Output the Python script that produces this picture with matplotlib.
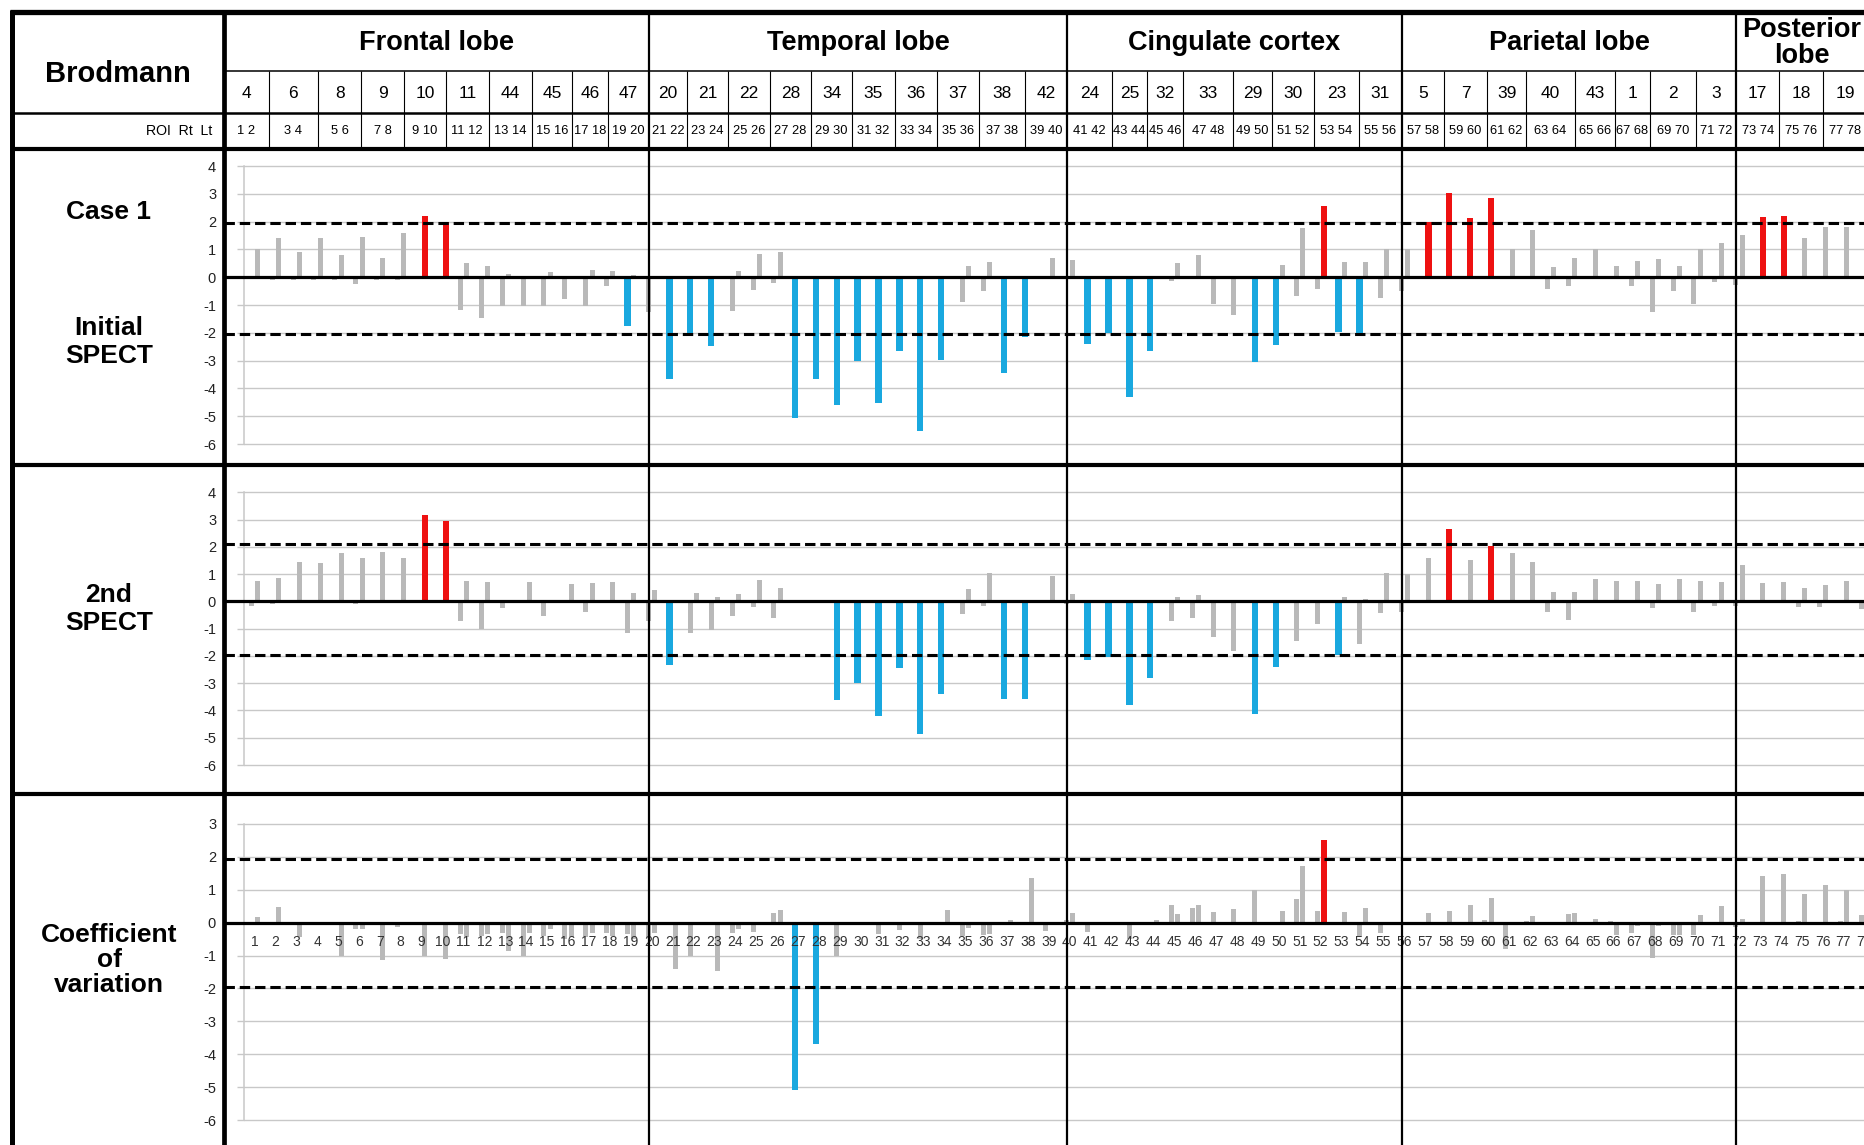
import numpy as np
import matplotlib
matplotlib.use("Agg")
import matplotlib.pyplot as plt

plt.rcParams['font.family'] = ['Liberation Sans', 'DejaVu Sans']

# header of the table
lobes = ["Frontal lobe", "Temporal lobe", "Cingulate cortex", "Parietal lobe", "Posterior\nlobe"]
brodmann = [
    [4, 6, 8, 9, 10, 11, 44, 45, 46, 47],
    [20, 21, 22, 28, 34, 35, 36, 37, 38, 42],
    [24, 25, 32, 33, 29, 30, 23, 31],
    [5, 7, 39, 40, 43, 1, 2, 3],
    [17, 18, 19],
]
rois = np.arange(1, 79)

# Case 1, initial SPECT (z-scores), left = decrease bar, right = increase bar
initial_neg = [0, -0.1, -0.1, -0.1, -0.1, -0.24, -0.1, -0.1, 0, 0,
               -1.16, -1.47, -1.02, -1.02, -1.04, -0.8, -1.04, -0.3, -1.77, -1.24,
               -3.66, -2.04, -2.48, -1.2, -0.45, -0.22, -5.05, -3.66, -4.6, -3.0,
               -4.52, -2.65, -5.52, -2.96, -0.9, -0.48, -3.44, -2.16, 0, 0,
               -2.4, -2.01, -4.32, -2.65, -0.15, 0, -0.96, -1.34, -3.06, -2.43,
               -0.66, -0.42, -1.98, -2.13, -0.76, -0.48, 0, 0, 0, 0,
               0, 0, -0.42, -0.32, 0, 0, -0.3, -1.26, -0.48, -0.96,
               -0.16, -0.28, 0, 0, 0, 0, 0, 0]
initial_pos = [1.02, 1.4, 0.92, 1.4, 0.8, 1.44, 0.7, 1.6, 2.2, 1.98,
               0.52, 0.4, 0.1, 0.05, 0.18, 0, 0.26, 0.22, 0.08, 0,
               0, 0, 0, 0.24, 0.84, 0.92, 0, 0, 0, 0,
               0, 0, 0, 0, 0.4, 0.56, 0, 0, 0.68, 0.62,
               0, 0, 0, 0, 0.52, 0.8, 0, 0, 0, 0.44,
               1.76, 2.58, 0.56, 0.56, 1.02, 1.02, 2.0, 3.03, 2.12, 2.84,
               1.02, 1.71, 0.36, 0.68, 1.02, 0.4, 0.6, 0.66, 0.42, 1.02,
               1.22, 1.52, 2.16, 2.22, 1.4, 1.8, 1.82, 1.75]
initial_up = [9, 10, 52, 57, 58, 59, 60, 73, 74]
initial_down = [19, 21, 22, 23, 27, 28, 29, 30, 31, 32, 33, 34, 37, 38,
                41, 42, 43, 44, 49, 50, 53, 54]

# 2nd SPECT
second_neg = [-0.16, -0.1, 0, 0, 0, -0.1, 0, 0, 0, 0,
              -0.71, -1.01, -0.24, -0.07, -0.53, 0, -0.38, 0, -1.17, -0.71,
              -2.32, -1.17, -1.05, -0.53, -0.22, -0.59, 0, 0, -3.62, -2.98,
              -4.22, -2.44, -4.87, -3.41, -0.46, -0.16, -3.58, -3.58, 0, -0.1,
              -2.14, -2.03, -3.79, -2.8, -0.73, -0.61, -1.32, -1.81, -4.13, -2.42,
              -1.44, -0.81, -1.97, -1.56, -0.44, -0.4, 0, 0, 0, 0,
              0, 0, -0.4, -0.67, 0, 0, 0, -0.24, 0, -0.4,
              -0.16, -0.16, 0, 0, -0.22, -0.22, 0, -0.26]
second_pos = [0.76, 0.86, 1.43, 1.4, 1.77, 1.61, 1.82, 1.61, 3.18, 2.96,
              0.76, 0.7, 0, 0.72, 0, 0.64, 0.67, 0.7, 0.31, 0.43,
              0, 0.31, 0.15, 0.29, 0.8, 0.48, 0, 0, 0, 0,
              0, 0, 0, 0, 0.45, 1.04, 0, 0, 0.92, 0.27,
              0, 0, 0, 0, 0.17, 0.24, 0, 0, 0, 0,
              0, 0, 0.17, 0.09, 1.06, 1.0, 1.61, 2.65, 1.52, 2.04,
              1.77, 1.45, 0.35, 0.35, 0.84, 0.76, 0.76, 0.64, 0.84, 0.76,
              0.7, 1.33, 0.67, 0.7, 0.48, 0.6, 0.76, 0.45]
second_up = [9, 10, 58, 60]
second_down = [21, 29, 30, 31, 32, 33, 34, 37, 38, 41, 42, 43, 44, 49, 50, 53]

# coefficient of variation
cov_left = [0, 0, 0, -0.08, 0, -0.18, 0, -0.13, 0, 0,
            -0.35, -0.4, -0.3, -1.02, -0.4, -0.5, -0.45, -0.3, -0.35, -0.45,
            0, -1.02, 0, -0.3, -0.28, 0.3, -5.09, -3.68, -1.01, 0,
            -0.36, -0.23, -0.49, 0, -0.4, -0.38, 0, 0, -0.26, 0.07,
            -0.28, 0, -0.49, 0, 0.53, 0.45, 0.32, 0.4, 0.98, 0,
            0.73, 0.34, 0, -0.44, -0.33, -0.05, 0, 0, 0, 0.07,
            -0.79, 0.04, 0, 0.27, 0, 0.04, -0.33, -1.07, -0.38, -0.38,
            0, -0.13, 0, 0, 0.04, 0.02, 0.04, 0.22]
cov_right = [0.17, 0.48, -0.45, 0, -1.02, -0.2, -1.14, 0, -1.01, -1.11,
             -0.45, -0.35, -0.87, -0.3, -0.2, -0.45, -0.3, -0.4, -0.5, -0.3,
             -1.4, 0, -1.47, -0.2, 0, 0.37, 0, 0, 0, 0,
             0, 0, 0, 0.37, -0.15, -0.35, 0.07, 1.36, 0, 0.3,
             0, 0, 0, 0.07, 0.27, 0.53, 0, 0, 0, 0.34,
             1.72, 2.52, 0.32, 0.43, 0, 0, 0.3, 0.34, 0.53, 0.76,
             0, 0.2, 0, 0.3, 0.12, -0.38, -0.1, -0.1, -0.38, 0.24,
             0.5, 0.12, 1.42, 1.49, 0.86, 1.15, 0.98, 1.39]
cov_up = [52]
cov_down = [27, 28]

# dashed significance lines (upper, lower) per panel
initial_thr = (1.95, -2.05)
second_thr = (2.12, -1.97)
cov_thr = (1.94, -1.97)

GRAY = '#b9b9b9'
RED = '#ee1111'
BLUE = '#19a8df'
GRID = '#c8c8c8'

# relative widths of the header cells (the table is hand-drawn, cells are not equal)
cell_weights = [
    [44.5, 49, 43, 42.7, 41.5, 42.7, 43, 40, 36, 40.6],
    [38.1, 40.6, 42.4, 40.6, 41.4, 42.3, 42.7, 41.5, 45.6, 42.7],
    [44.6, 35.2, 35.2, 49.8, 39.4, 41.5, 44.8, 42.9],
    [42.9, 44.7, 39.3, 50.3, 41.1, 35.3, 47.9, 41],
    [42.5, 44, 43],
]

W, H = 1865, 1145
fig = plt.figure(figsize=(W / 100, H / 100), dpi=100)

AX_L = 243.9   # left of the plotting area, pixels
DIV = 224      # thick divider after the label column
x_lo, x_hi = 0.5, 78.03

panels = [
    (151, 463, (-6.68, 4.54), range(-6, 5), initial_neg, initial_pos, initial_down, initial_up, initial_thr),
    (467, 792, (-6.99, 4.93), range(-6, 5), second_neg, second_pos, second_down, second_up, second_thr),
    (796, 1145, (-6.76, 3.85), range(-6, 4), cov_left, cov_right, cov_down, cov_up, cov_thr),
]

axes = []
for top, bot, ylim, ticks, left, right, down, up, thr in panels:
    ax = fig.add_axes([AX_L / W, 1 - bot / H, (W - AX_L) / W, (bot - top) / H])
    ax.set_xlim(x_lo, x_hi)
    ax.set_ylim(*ylim)
    ax.set_axisbelow(True)

    lc = [BLUE if r in down else GRAY for r in rois]
    lw_ = [0.3 if r in down else 0.24 for r in rois]
    rc = [RED if r in up else GRAY for r in rois]
    rw = [0.3 if r in up else 0.24 for r in rois]
    ax.bar(rois - 0.15, left, width=lw_, color=lc, zorder=2)
    ax.bar(rois + 0.15, right, width=rw, color=rc, zorder=2)

    ext = -(AX_L - DIV) / (W - AX_L)
    ax.axhline(0, xmin=ext, xmax=1, color='k', lw=2.3, clip_on=False, zorder=4)
    for t in thr:
        ax.axhline(t, xmin=ext, xmax=1, color='k', lw=2.2, ls=(0, (3.4, 1.6)),
                   clip_on=False, zorder=4)

    ax.set_xticks([])
    ax.set_yticks(list(ticks))
    ax.set_yticklabels([str(t) for t in ticks])
    ax.tick_params(axis='y', length=5, width=1, color=GRID, labelsize=10.5,
                   labelcolor='#222222', pad=15)
    ax.yaxis.grid(True, color=GRID, lw=1.0)
    for s in ['top', 'right', 'bottom']:
        ax.spines[s].set_visible(False)
    ax.spines['left'].set_color(GRID)
    ax.spines['left'].set_linewidth(1.1)
    ax.spines['left'].set_bounds(min(ticks), max(ticks))
    ax.patch.set_alpha(0)
    axes.append(ax)

# ROI numbers on the zero line of the last panel
for r in rois:
    axes[2].text(r, -0.59, str(r), ha='center', va='center', fontsize=10,
                 color='#333333', zorder=5, clip_on=True)

# overlay in pixel coordinates for the table
cv = fig.add_axes([0, 0, 1, 1], zorder=10)
cv.set_xlim(0, W)
cv.set_ylim(H, 0)
cv.axis('off')


def px(k):
    return axes[0].transData.transform((k, 0))[0]


ends = np.cumsum([2 * len(b) for b in brodmann])
edges = [DIV] + [px(e - 0.12) for e in ends[:-1]]
post_w = (edges[1] - edges[0]) / sum(cell_weights[0]) * sum(cell_weights[-1])
edges.append(edges[-1] + post_w)


def hline(y, x0, x1, w):
    cv.plot([x0, x1], [y, y], color='k', lw=w, solid_capstyle='butt')


def vline(x, y0, y1, w):
    cv.plot([x, x], [y0, y1], color='k', lw=w, solid_capstyle='butt')


hline(12, 9.5, W, 3.8)
vline(12, 10, H, 3.6)
vline(DIV, 10, H, 3.4)
for x in edges[1:-1]:
    vline(x, 10, H, 1.6)
hline(71, DIV, W, 1.1)
hline(113, 12, W, 1.8)
for y in [149, 465, 794]:
    hline(y, 12, W, 3.0)

roi_no = 1
for i, lobe in enumerate(lobes):
    x0, x1 = edges[i], edges[i + 1]
    wts = np.array(cell_weights[i], dtype=float)
    cuts = x0 + np.concatenate([[0], np.cumsum(wts)]) / wts.sum() * (x1 - x0)
    cv.text((x0 + x1) / 2, 43, lobe, ha='center', va='center', fontsize=19.5,
            fontweight='bold', linespacing=1.0)
    for j, b in enumerate(brodmann[i]):
        if j > 0:
            vline(cuts[j], 71, 149, 0.8)
        cx = (cuts[j] + cuts[j + 1]) / 2
        cv.text(cx, 93, str(b), ha='center', va='center', fontsize=12.5)
        cv.text(cx, 131, f"{roi_no} {roi_no + 1}", ha='center', va='center', fontsize=9.3)
        roi_no += 2

cv.text(118, 74, "Brodmann", ha='center', va='center', fontsize=21, fontweight='bold')
cv.text(212, 131, "ROI  Rt  Lt", ha='right', va='center', fontsize=10.2)

row_labels = [("Case 1", 212, 1.0), ("Initial\nSPECT", 342, 1.2),
              ("2nd\nSPECT", 609, 1.2), ("Coefficient\nof\nvariation", 960, 1.06)]
for txt, y, ls in row_labels:
    cv.text(109, y, txt, ha='center', va='center', fontsize=19, fontweight='bold',
            linespacing=ls)

fig.savefig("out.png", dpi=100, facecolor='white')
